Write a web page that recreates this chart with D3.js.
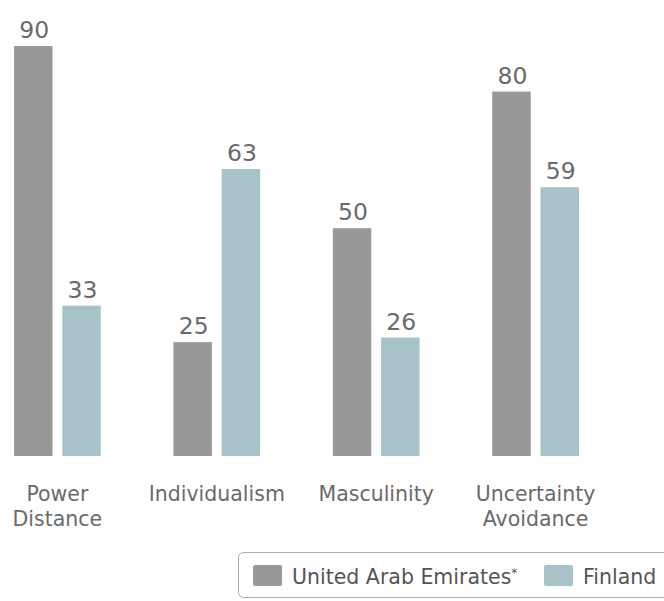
<!DOCTYPE html>
<html>
<head>
<meta charset="utf-8">
<script src="https://cdn.jsdelivr.net/npm/d3@7"></script>
<style>
  body { margin: 0; background: #fff; }
  svg { display: block; }
</style>
</head>
<body>
<script>
// Chart data
const categories = [["Power", "Distance"], ["Individualism"], ["Masculinity"], ["Uncertainty", "Avoidance"]];
const seriesNames = ["United Arab Emirates*", "Finland"];
const uaeValues = [90, 25, 50, 80];
const finlandValues = [33, 63, 26, 59];

const colors = ["#999899", "#a7c3c9"];

const width = 664, height = 601;

const svg = d3.select("body").append("svg")
  .attr("width", width)
  .attr("height", height);

const keys = categories.map(c => c.join(" "));
const rows = keys.map((k, i) => ({ key: k, values: [uaeValues[i], finlandValues[i]] }));

// Outer band for the groups, inner band for the two countries
const x0 = d3.scaleBand()
  .domain(keys)
  .range([-22.3, 615.3])
  .paddingInner(0.456)
  .paddingOuter(0.228);

const x1 = d3.scaleBand()
  .domain(seriesNames)
  .range([0, x0.bandwidth()])
  .paddingInner(0.203);

const y = d3.scaleLinear()
  .domain([0, 90])
  .range([456, 46]);

const groups = svg.selectAll(".group")
  .data(rows)
  .enter().append("g")
  .attr("class", "group")
  .attr("transform", d => "translate(" + x0(d.key) + ",0)");

groups.selectAll("rect")
  .data(d => d.values.map((v, i) => ({ name: seriesNames[i], value: v, i: i })))
  .enter().append("rect")
  .attr("x", d => x1(d.name))
  .attr("y", d => y(d.value))
  .attr("width", x1.bandwidth())
  .attr("height", d => y(0) - y(d.value))
  .attr("fill", d => colors[d.i]);

// Value labels over the bars
groups.selectAll(".value")
  .data(d => d.values.map((v, i) => ({ name: seriesNames[i], value: v })))
  .enter().append("text")
  .attr("class", "value")
  .attr("x", d => x1(d.name) + x1.bandwidth() / 2 + 1)
  .attr("y", d => y(d.value) - 8)
  .attr("text-anchor", "middle")
  .attr("font-family", "DejaVu Sans")
  .attr("font-size", "23.5px")
  .attr("fill", "#6a6a6a")
  .text(d => d.value);

// Category labels (two lines where needed)
const xAxis = svg.append("g");
categories.forEach((lines, i) => {
  const t = xAxis.append("text")
    .attr("x", x0(keys[i]) + x0.bandwidth() / 2)
    .attr("y", 501)
    .attr("text-anchor", "middle")
    .attr("font-family", "DejaVu Sans")
    .attr("font-size", "20.5px")
    .attr("fill", "#6a6a6a");
  lines.forEach((l, j) => {
    t.append("tspan")
      .attr("x", x0(keys[i]) + x0.bandwidth() / 2)
      .attr("dy", j === 0 ? 0 : 25)
      .text(l);
  });
});

// Legend
const legend = svg.append("g");
legend.append("rect")
  .attr("x", 238.5)
  .attr("y", 552.5)
  .attr("width", 460)
  .attr("height", 45)
  .attr("rx", 5)
  .attr("fill", "#fff")
  .attr("stroke", "#aaa");

const legendX = [253, 544];
seriesNames.forEach((name, i) => {
  legend.append("rect")
    .attr("x", legendX[i])
    .attr("y", 565)
    .attr("width", 29)
    .attr("height", 21)
    .attr("rx", 2)
    .attr("fill", colors[i]);
  const t = legend.append("text")
    .attr("x", legendX[i] + 39)
    .attr("y", 584)
    .attr("font-family", "DejaVu Sans")
    .attr("font-size", "20.5px")
    .attr("fill", "#555");
  if (name.endsWith("*")) {
    // small raised asterisk as in the original
    t.append("tspan").text(name.slice(0, -1));
    t.append("tspan")
      .attr("font-size", "12px")
      .attr("dy", -7)
      .text("*");
  } else {
    t.text(name);
  }
});
</script>
</body>
</html>
